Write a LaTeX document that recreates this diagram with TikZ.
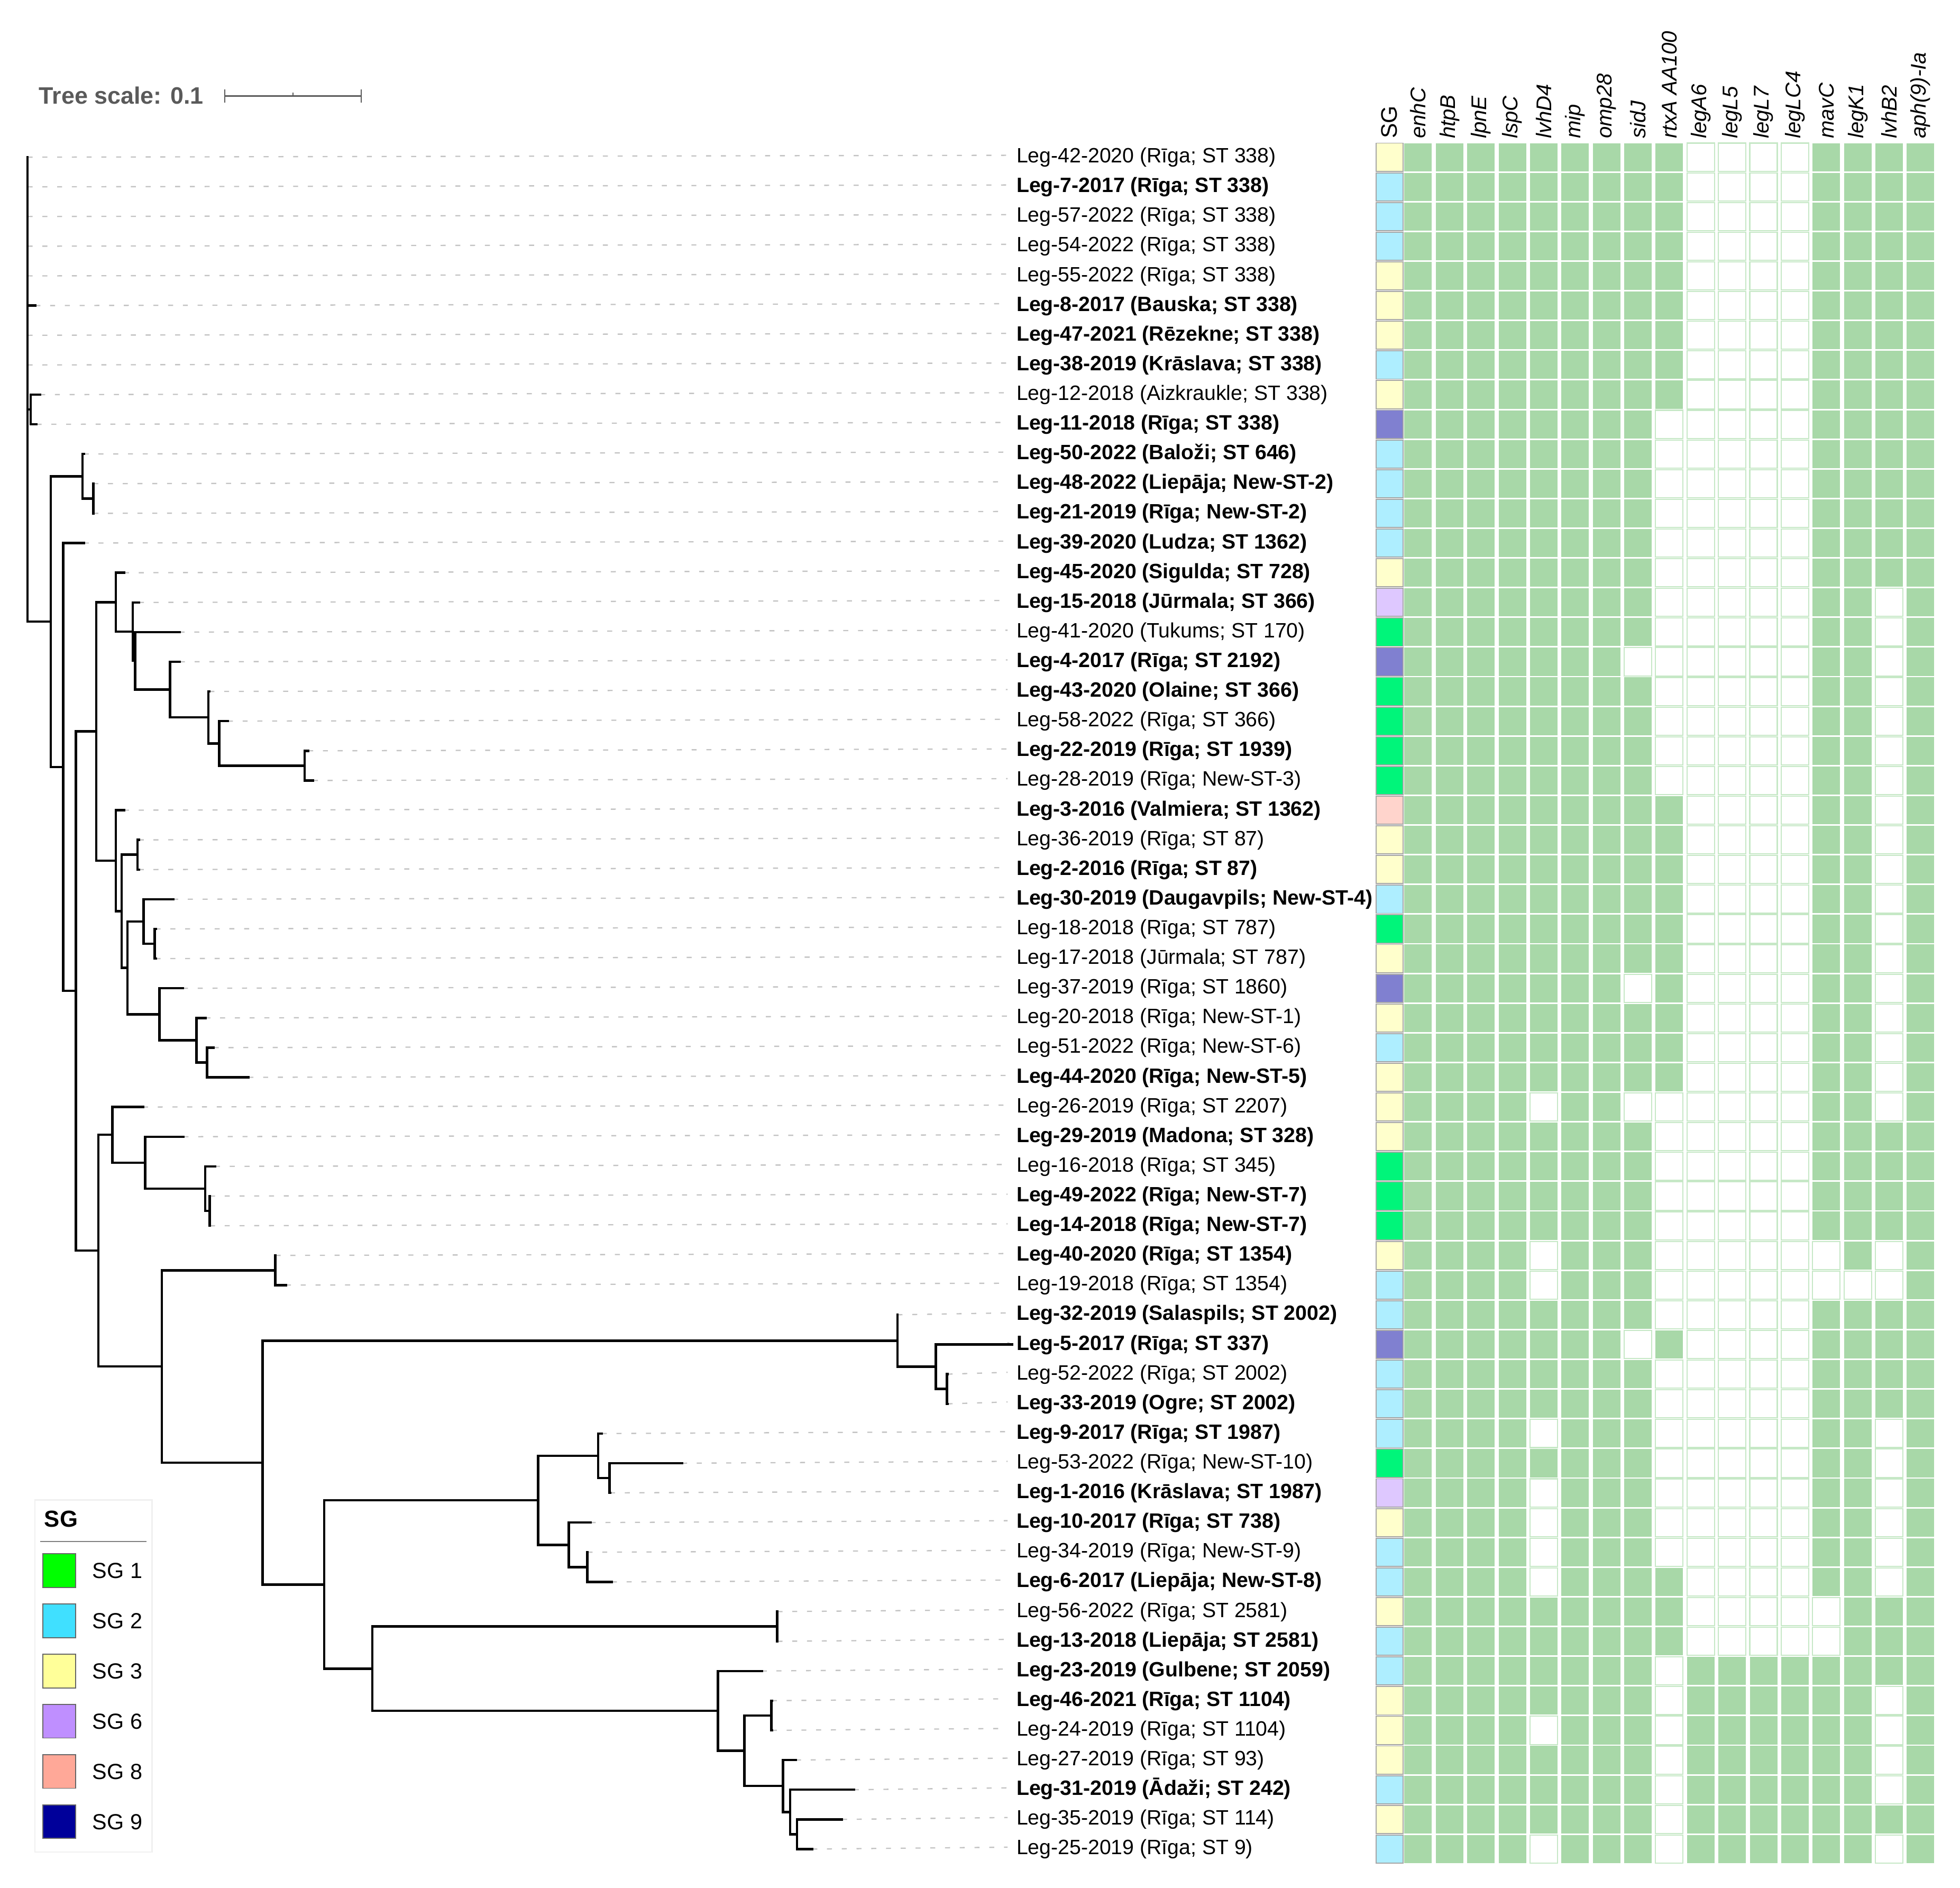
\documentclass[tikz,border=0pt]{standalone}
\usepackage{fontspec}
\setmainfont{Liberation Sans}
\usetikzlibrary{positioning,calc}

\definecolor{hit}{RGB}{168,216,168}
\definecolor{hitedge}{RGB}{198,232,198}
\definecolor{leadgray}{RGB}{195,195,195}
\definecolor{scalegray}{RGB}{90,90,90}
\definecolor{sgedge}{RGB}{165,165,165}
\definecolor{sgone}{RGB}{0,245,122}
\definecolor{sgtwo}{RGB}{174,238,255}
\definecolor{sgthree}{RGB}{255,255,204}
\definecolor{sgsix}{RGB}{222,200,255}
\definecolor{sgeight}{RGB}{255,212,204}
\definecolor{sgnine}{RGB}{128,128,208}
\definecolor{lgone}{RGB}{0,255,0}
\definecolor{lgtwo}{RGB}{64,224,255}
\definecolor{lgthree}{RGB}{255,255,153}
\definecolor{lgsix}{RGB}{191,143,255}
\definecolor{lgeight}{RGB}{255,168,152}
\definecolor{lgnine}{RGB}{0,0,154}

\begin{document}
\begin{tikzpicture}
	[x=1pt,y=-1pt,
	branch/.style={line width=1.9pt,line cap=rect},
	leader/.style={leadgray,line width=1pt,dash pattern=on 4pt off 7.8pt},
	leaf/.style={anchor=west,inner sep=0pt,yshift=1.5pt,text height=11.9pt,text depth=0pt,font=\fontsize{16.6}{20}\selectfont},
	hdr/.style={rotate=90,anchor=west,inner sep=0pt,font=\fontsize{17}{20}\selectfont\itshape},
	sgcell/.style={draw=sgedge,line width=0.8pt},
	absent/.style={fill=white,draw=hitedge,line width=0.9pt},
	swatch/.style={draw=black!60,line width=0.8pt,minimum width=26pt,minimum height=27pt,inner sep=0pt},
	lgtext/.style={anchor=west,inner sep=0pt,text height=12.5pt,text depth=0pt,font=\fontsize{17.5}{20}\selectfont}]

	\useasboundingbox (0,0) rectangle (1568,1510);

	% tree scale
	\node[anchor=base west,inner sep=0pt,text=scalegray,font=\fontsize{19}{22}\selectfont\bfseries] (tscale) at (31,83.2) {Tree scale: 0.1};
	\coordinate (sb0) at (179.8,76.9);
	\coordinate (sb1) at (289,76.9);
	\draw[scalegray,line width=1.2pt] (sb0) -- (sb1);
	\draw[scalegray,line width=1.2pt] (sb0)+(0,-5.3) -- +(0,5.3);
	\draw[scalegray,line width=1.2pt] (sb1)+(0,-5.3) -- +(0,5.3);
	\draw[scalegray,line width=1pt] ($(sb0)!0.5!(sb1)$) -- +(0,-3);

	% column heads
	\node[rotate=90,anchor=west,inner sep=0pt,font=\fontsize{18}{20}\selectfont] (gSG) at (1111.6,111) {SG};
	\foreach \g [count=\k] in {enhC,htpB,lpnE,lspC,lvhD4,mip,omp28,sidJ,rtxA AA100,legA6,legL5,legL7,legLC4,mavC,legK1,lvhB2,aph(9)-Ia}
		\node[hdr] (g\k) at ({1134.5+25.12*(\k-1)},111) {\g};

	\begin{scope}[yshift=-101.96pt,y=-23.74pt]

	% leaf tips
	\foreach \r/\x in {1/22.1,2/22.1,3/22.1,4/22.1,5/22.1,6/28.3,7/22.1,8/22.1,9/32.1,10/29.3,
		11/67,12/74.6,13/74.6,14/67,15/99.2,16/111.1,17/143.6,18/143.9,19/167.5,20/182.3,
		21/246.5,22/250.3,23/99.2,24/111,25/111,26/138.5,27/124.5,28/124.5,29/146.4,30/164.3,
		31/171,32/198.7,33/114.4,34/146.8,35/172,36/168,37/168,38/220.5,39/228.8,40/718,
		41/809.5,42/758,43/758,44/481.4,45/545.6,46/488,47/472.6,48/470,49/489.5,50/622,
		51/622,52/609.4,53/617.5,54/617.5,55/636.8,56/683.1,57/673.6,58/649.8}
		\coordinate (l\r) at (\x,\r);

	% inner nodes
	\coordinate (root) at (22.1,8.825);
	\coordinate (n9) at (24.6,9.5);
	\coordinate (nC) at (40.6,16.65);
	\coordinate (nA) at (66.1,11.75);
	\coordinate (nB) at (74.6,12.5);
	\coordinate (nD) at (50.6,21.55);
	\coordinate (nF) at (60.8,29.09);
	\coordinate (nG) at (77.1,20.348);
	\coordinate (nE) at (92.6,15.992);
	\coordinate (nIa) at (106.2,16.984);
	\coordinate (nIb) at (108,17.969);
	\coordinate (nJ) at (136,18.9375);
	\coordinate (nK) at (166.6,19.875);
	\coordinate (nL) at (175.3,20.75);
	\coordinate (nM) at (243.7,21.5);
	\coordinate (nH) at (92.6,24.703);
	\coordinate (nN) at (97.3,26.406);
	\coordinate (nO) at (110,24.5);
	\coordinate (nP) at (102,28.3125);
	\coordinate (nQ) at (114.8,26.75);
	\coordinate (nS) at (123.7,27.5);
	\coordinate (nR) at (127.5,29.875);
	\coordinate (nT) at (157.2,30.75);
	\coordinate (nU) at (165.7,31.5);
	\coordinate (nW) at (78.8,37.84);
	\coordinate (nV) at (90,33.9375);
	\coordinate (nY) at (116.1,34.875);
	\coordinate (nZ) at (164.1,35.75);
	\coordinate (nZZ) at (167.7,36.5);
	\coordinate (nX) at (129.5,41.74);
	\coordinate (nAA) at (220.2,38.5);
	\coordinate (nBB) at (210,44.98);
	\coordinate (nQQ) at (717.9,40.875);
	\coordinate (nRR) at (748.6,41.75);
	\coordinate (nSS) at (757.6,42.5);
	\coordinate (nCC) at (259.3,49.09);
	\coordinate (nDD) at (430.5,46.25);
	\coordinate (nFF) at (478.6,44.75);
	\coordinate (nHH) at (487.7,45.5);
	\coordinate (nGG) at (455.1,47.75);
	\coordinate (nII) at (469.8,48.5);
	\coordinate (nEE) at (297.9,51.92);
	\coordinate (nJJ) at (621.7,50.5);
	\coordinate (nKK) at (574.3,53.34);
	\coordinate (nLL) at (595.4,54.6875);
	\coordinate (nMM) at (617.1,53.5);
	\coordinate (nNN) at (626.3,55.875);
	\coordinate (nOO) at (632.2,56.75);
	\coordinate (nPP) at (637.5,57.5);

	% isolate labels
	\foreach \r/\t in {
		1/{Leg-42-2020 (Rīga; ST 338)},
		2/{\textbf{Leg-7-2017 (Rīga; ST 338)}},
		3/{Leg-57-2022 (Rīga; ST 338)},
		4/{Leg-54-2022 (Rīga; ST 338)},
		5/{Leg-55-2022 (Rīga; ST 338)},
		6/{\textbf{Leg-8-2017 (Bauska; ST 338)}},
		7/{\textbf{Leg-47-2021 (Rēzekne; ST 338)}},
		8/{\textbf{Leg-38-2019 (Krāslava; ST 338)}},
		9/{Leg-12-2018 (Aizkraukle; ST 338)},
		10/{\textbf{Leg-11-2018 (Rīga; ST 338)}},
		11/{\textbf{Leg-50-2022 (Baloži; ST 646)}},
		12/{\textbf{Leg-48-2022 (Liepāja; New-ST-2)}},
		13/{\textbf{Leg-21-2019 (Rīga; New-ST-2)}},
		14/{\textbf{Leg-39-2020 (Ludza; ST 1362)}},
		15/{\textbf{Leg-45-2020 (Sigulda; ST 728)}},
		16/{\textbf{Leg-15-2018 (Jūrmala; ST 366)}},
		17/{Leg-41-2020 (Tukums; ST 170)},
		18/{\textbf{Leg-4-2017 (Rīga; ST 2192)}},
		19/{\textbf{Leg-43-2020 (Olaine; ST 366)}},
		20/{Leg-58-2022 (Rīga; ST 366)},
		21/{\textbf{Leg-22-2019 (Rīga; ST 1939)}},
		22/{Leg-28-2019 (Rīga; New-ST-3)},
		23/{\textbf{Leg-3-2016 (Valmiera; ST 1362)}},
		24/{Leg-36-2019 (Rīga; ST 87)},
		25/{\textbf{Leg-2-2016 (Rīga; ST 87)}},
		26/{\textbf{Leg-30-2019 (Daugavpils; New-ST-4)}},
		27/{Leg-18-2018 (Rīga; ST 787)},
		28/{Leg-17-2018 (Jūrmala; ST 787)},
		29/{Leg-37-2019 (Rīga; ST 1860)},
		30/{Leg-20-2018 (Rīga; New-ST-1)},
		31/{Leg-51-2022 (Rīga; New-ST-6)},
		32/{\textbf{Leg-44-2020 (Rīga; New-ST-5)}},
		33/{Leg-26-2019 (Rīga; ST 2207)},
		34/{\textbf{Leg-29-2019 (Madona; ST 328)}},
		35/{Leg-16-2018 (Rīga; ST 345)},
		36/{\textbf{Leg-49-2022 (Rīga; New-ST-7)}},
		37/{\textbf{Leg-14-2018 (Rīga; New-ST-7)}},
		38/{\textbf{Leg-40-2020 (Rīga; ST 1354)}},
		39/{Leg-19-2018 (Rīga; ST 1354)},
		40/{\textbf{Leg-32-2019 (Salaspils; ST 2002)}},
		41/{\textbf{Leg-5-2017 (Rīga; ST 337)}},
		42/{Leg-52-2022 (Rīga; ST 2002)},
		43/{\textbf{Leg-33-2019 (Ogre; ST 2002)}},
		44/{\textbf{Leg-9-2017 (Rīga; ST 1987)}},
		45/{Leg-53-2022 (Rīga; New-ST-10)},
		46/{\textbf{Leg-1-2016 (Krāslava; ST 1987)}},
		47/{\textbf{Leg-10-2017 (Rīga; ST 738)}},
		48/{Leg-34-2019 (Rīga; New-ST-9)},
		49/{\textbf{Leg-6-2017 (Liepāja; New-ST-8)}},
		50/{Leg-56-2022 (Rīga; ST 2581)},
		51/{\textbf{Leg-13-2018 (Liepāja; ST 2581)}},
		52/{\textbf{Leg-23-2019 (Gulbene; ST 2059)}},
		53/{\textbf{Leg-46-2021 (Rīga; ST 1104)}},
		54/{Leg-24-2019 (Rīga; ST 1104)},
		55/{Leg-27-2019 (Rīga; ST 93)},
		56/{\textbf{Leg-31-2019 (Ādaži; ST 242)}},
		57/{Leg-35-2019 (Rīga; ST 114)},
		58/{Leg-25-2019 (Rīga; ST 9)}}
		\node[leaf] (lab\r) at (813,\r) {\t};

	\foreach \r in {1,...,58}
		\draw[leader] (l\r) -- (lab\r.west -| 806,0);

	% branches
	\foreach \p/\c in {root/l1,root/l2,root/l3,root/l4,root/l5,root/l6,root/l7,root/l8,root/n9,root/nC,
		n9/l9,n9/l10,nC/nA,nC/nD,nA/l11,nA/nB,nB/l12,nB/l13,nD/l14,nD/nF,
		nF/nG,nF/nW,nG/nE,nG/nH,nE/l15,nE/nIa,nIa/l16,nIa/nIb,nIb/l17,nIb/nJ,
		nJ/l18,nJ/nK,nK/l19,nK/nL,nL/l20,nL/nM,nM/l21,nM/l22,
		nH/l23,nH/nN,nN/nO,nN/nP,nO/l24,nO/l25,nP/nQ,nP/nR,nQ/l26,nQ/nS,nS/l27,nS/l28,
		nR/l29,nR/nT,nT/l30,nT/nU,nU/l31,nU/l32,
		nW/nV,nW/nX,nV/l33,nV/nY,nY/l34,nY/nZ,nZ/l35,nZ/nZZ,nZZ/l36,nZZ/l37,
		nX/nAA,nX/nBB,nAA/l38,nAA/l39,nBB/nQQ,nBB/nCC,nQQ/l40,nQQ/nRR,nRR/l41,nRR/nSS,nSS/l42,nSS/l43,
		nCC/nDD,nCC/nEE,nDD/nFF,nDD/nGG,nFF/l44,nFF/nHH,nHH/l45,nHH/l46,nGG/l47,nGG/nII,nII/l48,nII/l49,
		nEE/nJJ,nEE/nKK,nJJ/l50,nJJ/l51,nKK/l52,nKK/nLL,nLL/nMM,nLL/nNN,nMM/l53,nMM/l54,
		nNN/l55,nNN/nOO,nOO/l56,nOO/nPP,nPP/l57,nPP/l58}
		\draw[branch] (\p) |- (\c);

	% SG column and gene presence
	\foreach \r/\sg/\abs in {
		1/sgthree/{10,11,12,13},2/sgtwo/{10,11,12,13},3/sgtwo/{10,11,12,13},4/sgtwo/{10,11,12,13},
		5/sgthree/{10,11,12,13},6/sgthree/{10,11,12,13},7/sgthree/{10,11,12,13},8/sgtwo/{10,11,12,13},
		9/sgthree/{10,11,12,13},10/sgnine/{9,10,11,12,13},11/sgtwo/{9,10,11,12,13},12/sgtwo/{9,10,11,12,13},
		13/sgtwo/{9,10,11,12,13},14/sgtwo/{9,10,11,12,13},15/sgthree/{9,10,11,12,13},
		16/sgsix/{9,10,11,12,13,16},17/sgone/{9,10,11,12,13,16},18/sgnine/{8,9,10,11,12,13,16},
		19/sgone/{9,10,11,12,13,16},20/sgone/{9,10,11,12,13,16},21/sgone/{9,10,11,12,13,16},
		22/sgone/{9,10,11,12,13,16},23/sgeight/{10,11,12,13,16},24/sgthree/{10,11,12,13,16},
		25/sgthree/{10,11,12,13,16},26/sgtwo/{10,11,12,13,16},27/sgone/{10,11,12,13,16},
		28/sgthree/{10,11,12,13,16},29/sgnine/{8,10,11,12,13,16},30/sgthree/{10,11,12,13,16},
		31/sgtwo/{10,11,12,13,16},32/sgthree/{10,11,12,13,16},33/sgthree/{5,8,9,10,11,12,13,16},
		34/sgthree/{9,10,11,12,13},35/sgone/{9,10,11,12,13},36/sgone/{9,10,11,12,13},
		37/sgone/{9,10,11,12,13},38/sgthree/{5,9,10,11,12,13,14,16},39/sgtwo/{5,9,10,11,12,13,14,15,16},
		40/sgtwo/{9,10,11,12,13},41/sgnine/{8,10,11,12,13},42/sgtwo/{9,10,11,12,13},
		43/sgtwo/{9,10,11,12,13},44/sgtwo/{5,9,10,11,12,13,16},45/sgone/{9,10,11,12,13,16},
		46/sgsix/{5,9,10,11,12,13,16},47/sgthree/{5,9,10,11,12,13,16},48/sgtwo/{5,9,10,11,12,13,16},
		49/sgtwo/{5,10,11,12,13,16},50/sgthree/{10,11,12,13,14},51/sgtwo/{10,11,12,13,14},
		52/sgtwo/{9},53/sgthree/{9,16},54/sgthree/{5,9,16},55/sgthree/{9,16},
		56/sgtwo/{9,16},57/sgthree/{9},58/sgtwo/{5,9,16}}
	{
		\filldraw[sgcell,fill=\sg] (1100.7,{\r-0.474}) rectangle (1122.6,{\r+0.474});
		\foreach \k in {1,...,17}
			\fill[hit] ({1123.5+25.12*(\k-1)},{\r-0.474}) rectangle +(22,0.948);
		\foreach \k in \abs
			\filldraw[absent] ({1123.5+25.12*(\k-1)},{\r-0.474}) rectangle +(22,0.948);
	}
	\end{scope}

	% legend
	\draw[gray!12,line width=1pt] (27.9,1199.7) rectangle (121.6,1481.2);
	\node[anchor=west,inner sep=0pt,text height=13.2pt,text depth=0pt,font=\fontsize{18.5}{22}\selectfont\bfseries] (lgtitle) at (35.3,1214.7) {SG};
	\draw[gray,line width=0.8pt] (32.2,1232.8) -- (117.3,1232.8);
	\foreach \c/\t [count=\i] in {lgone/SG 1,lgtwo/SG 2,lgthree/SG 3,lgsix/SG 6,lgeight/SG 8,lgnine/SG 9}
	{
		\node[swatch,fill=\c] (sw\i) at (47.45,{1256.1+40.16*(\i-1)}) {};
		\node[lgtext,right=12.9pt of sw\i] (lg\i) {\t};
	}
\end{tikzpicture}
\end{document}
